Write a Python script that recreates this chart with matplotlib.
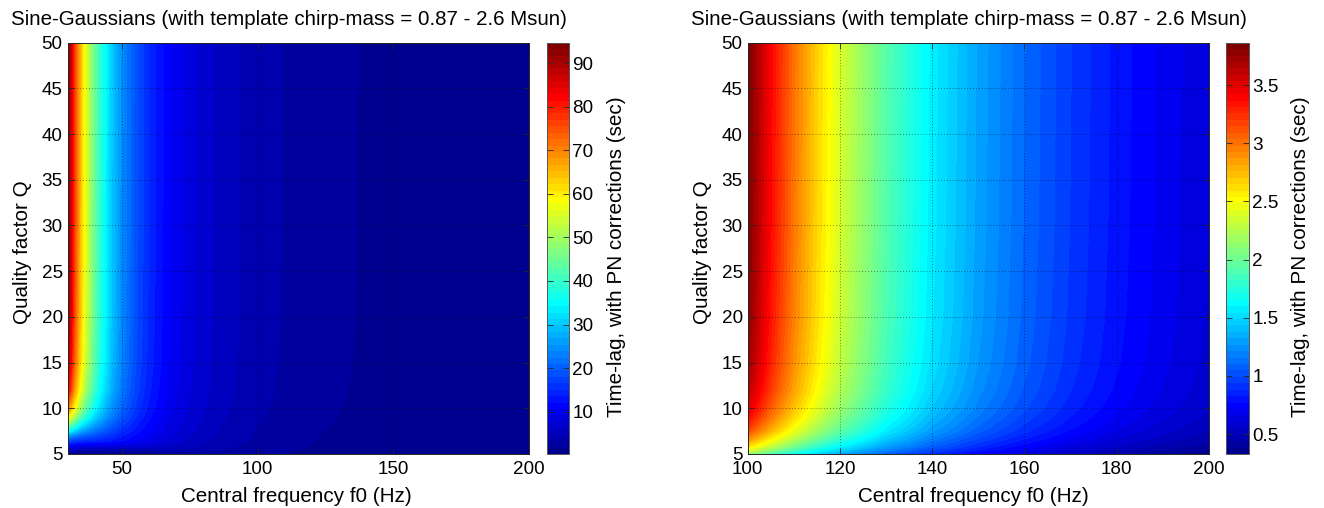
import numpy as np
import matplotlib
matplotlib.use('Agg')
import matplotlib.pyplot as plt
from matplotlib.colors import ListedColormap

plt.rcParams['font.family'] = ['Liberation Sans', 'DejaVu Sans']

TITLE = 'Sine-Gaussians (with template chirp-mass = 0.87 - 2.6 Msun)'
XLABEL = 'Central frequency f0 (Hz)'
YLABEL = 'Quality factor Q'
CLABEL = 'Time-lag, with PN corrections (sec)'

# Quality-factor rows shared by both panels
q_rows = [5, 5.25, 5.5, 5.75, 6, 6.5, 7, 7.5, 8, 9, 10, 12, 15, 20, 30, 50]

# ---- left panel: f0 = 30..200 Hz ----
f_left = [30, 32, 34, 36, 39, 42, 46, 50, 55, 60, 67, 75, 85, 100, 125, 155, 200]
lag_highQ_left = [94.7, 79.7, 67.8, 58.2, 47.0, 38.6, 30.3, 24.3, 18.8, 14.9,
                  11.1, 8.23, 5.89, 3.865, 2.132, 1.201, 0.609]
# fraction of the high-Q time-lag, read per row (Q) for f0 = 30..100 Hz
ratio_left_low_f = [
    [0.003, 0.004, 0.006, 0.008, 0.012, 0.017, 0.025, 0.035, 0.05, 0.07, 0.12, 0.20, 0.35, 0.54],
    [0.02, 0.025, 0.03, 0.035, 0.045, 0.055, 0.07, 0.09, 0.12, 0.16, 0.25, 0.37, 0.50, 0.59],
    [0.06, 0.065, 0.07, 0.08, 0.09, 0.11, 0.13, 0.16, 0.21, 0.28, 0.40, 0.50, 0.58, 0.63],
    [0.10, 0.105, 0.11, 0.12, 0.14, 0.16, 0.20, 0.25, 0.32, 0.40, 0.50, 0.58, 0.63, 0.66],
    [0.13, 0.14, 0.15, 0.17, 0.20, 0.24, 0.30, 0.36, 0.44, 0.50, 0.57, 0.63, 0.67, 0.69],
    [0.19, 0.212, 0.234, 0.266, 0.321, 0.375, 0.446, 0.506, 0.572, 0.621, 0.67, 0.702, 0.724, 0.735],
    [0.27, 0.29, 0.31, 0.341, 0.391, 0.442, 0.507, 0.563, 0.624, 0.669, 0.714, 0.745, 0.765, 0.775],
    [0.37, 0.388, 0.405, 0.432, 0.476, 0.52, 0.577, 0.625, 0.678, 0.718, 0.757, 0.784, 0.801, 0.81],
    [0.46, 0.475, 0.49, 0.513, 0.55, 0.588, 0.636, 0.678, 0.723, 0.756, 0.79, 0.813, 0.828, 0.835],
    [0.63, 0.64, 0.65, 0.664, 0.689, 0.713, 0.745, 0.772, 0.802, 0.824, 0.846, 0.86, 0.87, 0.875],
    [0.75, 0.756, 0.762, 0.772, 0.787, 0.803, 0.823, 0.84, 0.859, 0.872, 0.886, 0.896, 0.902, 0.905],
    [0.88, 0.882, 0.885, 0.888, 0.894, 0.90, 0.908, 0.915, 0.922, 0.927, 0.933, 0.936, 0.939, 0.94],
    [0.95, 0.951, 0.951, 0.952, 0.954, 0.955, 0.957, 0.959, 0.961, 0.962, 0.963, 0.964, 0.965, 0.965],
    [0.98, 0.98, 0.98, 0.98, 0.98, 0.98, 0.981, 0.981, 0.981, 0.981, 0.982, 0.982, 0.982, 0.982],
    [0.993, 0.993, 0.993, 0.993, 0.993, 0.993, 0.993, 0.993, 0.993, 0.993, 0.993, 0.993, 0.993, 0.993],
    [1.0, 1.0, 1.0, 1.0, 1.0, 1.0, 1.0, 1.0, 1.0, 1.0, 1.0, 1.0, 1.0, 1.0],
]

# ---- right panel: f0 = 100..200 Hz ----
f_right = [100, 105, 110, 115, 120, 130, 140, 150, 160, 170, 180, 190, 200]
lag_highQ_right = [3.865, 3.394, 2.998, 2.663, 2.377, 1.920, 1.576, 1.311,
                   1.104, 0.939, 0.806, 0.698, 0.609]
# fraction of the high-Q time-lag per Q row (f0 >= 100 Hz)
ratio_right = [0.54, 0.59, 0.63, 0.66, 0.69, 0.735, 0.775, 0.81, 0.835,
               0.875, 0.905, 0.94, 0.965, 0.982, 0.993, 1.0]

left_xticks = [50, 100, 150, 200]
right_xticks = [100, 120, 140, 160, 180, 200]
yticks = [5, 10, 15, 20, 25, 30, 35, 40, 45, 50]
left_cticks = [10, 20, 30, 40, 50, 60, 70, 80, 90]
right_cticks = [0.5, 1, 1.5, 2, 2.5, 3, 3.5]
right_cticklabels = ['0.5', '1', '1.5', '2', '2.5', '3', '3.5']

# build the tables
n_extra = len(f_left) - len(ratio_left_low_f[0])
ratio_left = np.array([row + [ratio_right[i]] * n_extra for i, row in enumerate(ratio_left_low_f)])
Z_left = ratio_left * np.array(lag_highQ_left)[None, :]
Z_right = np.array(ratio_right)[:, None] * np.array(lag_highQ_right)[None, :]


def matlab_jet(n=64):
    m = int(np.ceil(n / 4))
    u = np.concatenate([np.arange(1, m + 1) / m, np.ones(m - 1), np.arange(m, 0, -1) / m])
    g = int(np.ceil(m / 2)) - (1 if n % 4 == 1 else 0) + np.arange(1, len(u) + 1)
    r = g + m
    b = g - m
    J = np.zeros((n, 3))
    for ch, idx in ((0, r), (1, g), (2, b)):
        mask = (idx >= 1) & (idx <= n)
        J[idx[mask] - 1, ch] = u[mask]
    return ListedColormap(J)


cmap = matlab_jet(64)

W, H = 1324, 508
fig = plt.figure(figsize=(W / 100, H / 100), dpi=100)


def rect(x0, y0, x1, y1):
    return [x0 / W, 1 - y1 / H, (x1 - x0) / W, (y1 - y0) / H]


ax1 = fig.add_axes(rect(67.7, 42.7, 529, 454))
cax1 = fig.add_axes(rect(546.7, 42.7, 569.3, 454))
ax2 = fig.add_axes(rect(747.7, 42.7, 1209, 454))
cax2 = fig.add_axes(rect(1226, 42.7, 1249.3, 454))

FS_TICK = 13.6
FS_LAB = 14.9
FS_TITLE = 14.8
SPINE = '#262626'


def draw(ax, cax, f, Z, xticks, cticks, cticklabels):
    lev = np.linspace(Z.min(), Z.max(), 65)
    cs = ax.contourf(f, q_rows, Z, levels=lev, cmap=cmap)
    cs.set_edgecolor('face')
    cs.set_linewidth(0.3)
    ax.set_xlim(f[0], f[-1])
    ax.set_ylim(5, 50)
    ax.set_xticks(xticks)
    ax.set_yticks(yticks)
    ax.tick_params(direction='in', top=True, right=True, length=4, width=0.6,
                   labelsize=FS_TICK, colors=SPINE, labelcolor='black')
    ax.tick_params(axis='x', pad=5.0)
    ax.tick_params(axis='y', pad=3.6)
    for lab in ax.get_yticklabels():
        lab.set_verticalalignment('center_baseline')
    ax.grid(True, color='black', linestyle=(0, (1, 2.5)), linewidth=0.6, alpha=0.6)
    for s in ax.spines.values():
        s.set_color(SPINE)
        s.set_linewidth(0.7)
    cb = fig.colorbar(cs, cax=cax, ticks=cticks)
    if cticklabels is not None:
        cb.set_ticklabels(cticklabels)
    cb.ax.minorticks_off()
    cb.ax.tick_params(direction='in', left=True, right=True, length=4, width=0.6,
                      labelsize=FS_TICK, pad=2.2, colors=SPINE, labelcolor='black')
    cb.outline.set_edgecolor('#555555')
    cb.outline.set_linewidth(0.7)
    return cs


draw(ax1, cax1, f_left, Z_left, left_xticks, left_cticks, None)
draw(ax2, cax2, f_right, Z_right, right_xticks, right_cticks, right_cticklabels)


def ftext(x, y, s, **kw):
    fig.text(x / W, 1 - y / H, s, **kw)


for tx in (289, 968.5):
    ftext(tx, 25, TITLE, ha='center', va='baseline', fontsize=FS_TITLE)
for xx in (296, 973):
    ftext(xx, 502, XLABEL, ha='center', va='baseline', fontsize=FS_LAB)
for yx in (23, 702):
    ftext(yx, 252, YLABEL, ha='center', va='center', rotation=90, fontsize=FS_LAB)
for cx in (616, 1300):
    ftext(cx, 257, CLABEL, ha='center', va='center', rotation=90, fontsize=FS_LAB)

fig.savefig('out.png', dpi=100)
